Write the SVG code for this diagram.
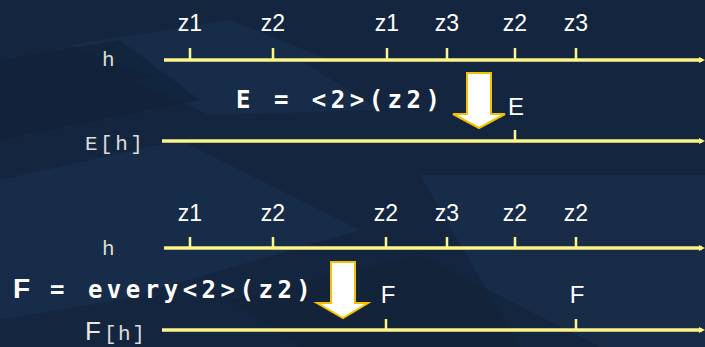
<svg xmlns="http://www.w3.org/2000/svg" width="705" height="347" viewBox="0 0 705 347">
<defs>
<style>
.ln{stroke:#fbf58a;stroke-width:3.5;fill:none}
.tk{stroke:#fbf58a;stroke-width:2.5;fill:none}
.z{font-family:"Liberation Sans",Arial,sans-serif;font-size:23px;fill:#ffffff;text-anchor:middle}
.m{font-family:"Liberation Mono","Courier New",monospace;font-size:21px;fill:#dcdcdc;letter-spacing:2.5px}
.b{font-family:"DejaVu Sans Mono","Liberation Mono",monospace;font-size:24px;font-weight:bold;fill:#ffffff;letter-spacing:4.5px}
.dn{fill:#ffffff;stroke:#f2c200;stroke-width:2;stroke-linejoin:miter}
</style>
<marker id="ah" markerWidth="6" markerHeight="6" refX="3" refY="3" orient="auto" markerUnits="userSpaceOnUse" viewBox="0 0 6 6">
<path d="M0,0 L6,3 L0,6 z" fill="#fbf58a"/>
</marker>
</defs>
<rect width="705" height="347" fill="#14263f"/>
<g id="bg" fill="#1b3150" opacity="0.55">
<polygon points="0,180 180,140 360,230 120,300 0,320"/>
<polygon points="70,45 230,20 330,60 160,80"/>
<polygon points="130,80 300,60 380,110 210,115"/>
<polygon points="420,175 705,175 705,347 520,347"/>
<polygon points="0,230 60,175 150,175 0,300"/>
</g>
<g id="bg2" fill="#0f1f36" opacity="0.5">
<polygon points="0,60 120,40 200,100 0,140"/>
<polygon points="230,300 420,255 600,347 300,347"/>
</g>
<g id="connectors">
<line class="ln" x1="164" y1="60" x2="702" y2="60" marker-end="url(#ah)"/>
<line class="ln" x1="162" y1="141" x2="702" y2="141" marker-end="url(#ah)"/>
<line class="ln" x1="164" y1="248" x2="702" y2="248" marker-end="url(#ah)"/>
<line class="ln" x1="162" y1="330" x2="702" y2="330" marker-end="url(#ah)"/>
</g>
<g id="row1">
<path class="tk" d="M190,48V60M273,48V60M387,48V60M447,48V60M515,48V60M576,48V60"/>
<text class="z" x="190" y="31">z1</text>
<text class="z" x="273" y="31">z2</text>
<text class="z" x="387" y="31">z1</text>
<text class="z" x="447" y="31">z3</text>
<text class="z" x="515" y="31">z2</text>
<text class="z" x="576" y="31">z3</text>
<text class="m" x="102" y="66">h</text>
</g>
<g id="row2">
<path class="tk" d="M515,130V141"/>
<text class="z" x="516" y="115" style="font-size:24px">E</text>
<text class="m" x="85" y="150">E[h]</text>
<text class="b" x="236" y="108">E = &lt;2&gt;(z2)</text>
<polygon class="dn" points="467,73 491,73 491,114 505,114 479,128 453,114 467,114"/>
</g>
<g id="row3">
<path class="tk" d="M190,237V248M273,237V248M386,237V248M447,237V248M515,237V248M576,237V248"/>
<text class="z" x="190" y="221">z1</text>
<text class="z" x="273" y="221">z2</text>
<text class="z" x="386" y="221">z2</text>
<text class="z" x="447" y="221">z3</text>
<text class="z" x="515" y="221">z2</text>
<text class="z" x="576" y="221">z2</text>
<text class="m" x="102" y="255">h</text>
</g>
<g id="row4">
<path class="tk" d="M386,319V330M576,319V330"/>
<text class="z" x="388" y="303" style="font-size:24px">F</text>
<text class="z" x="577" y="303" style="font-size:24px">F</text>
<text x="85" y="340" font-family="'Liberation Sans',Arial,sans-serif" font-size="26" fill="#e6e6e6">F</text>
<text class="m" x="104" y="340" style="letter-spacing:1.5px">[h]</text>
<text x="13" y="298" font-family="'Liberation Sans',Arial,sans-serif" font-size="28" font-weight="bold" fill="#ffffff">F</text>
<text class="b" x="50" y="298">= every&lt;2&gt;(z2)</text>
<polygon class="dn" points="331,262 355,262 355,303 368,303 343,318 317,303 331,303"/>
</g>
</svg>
